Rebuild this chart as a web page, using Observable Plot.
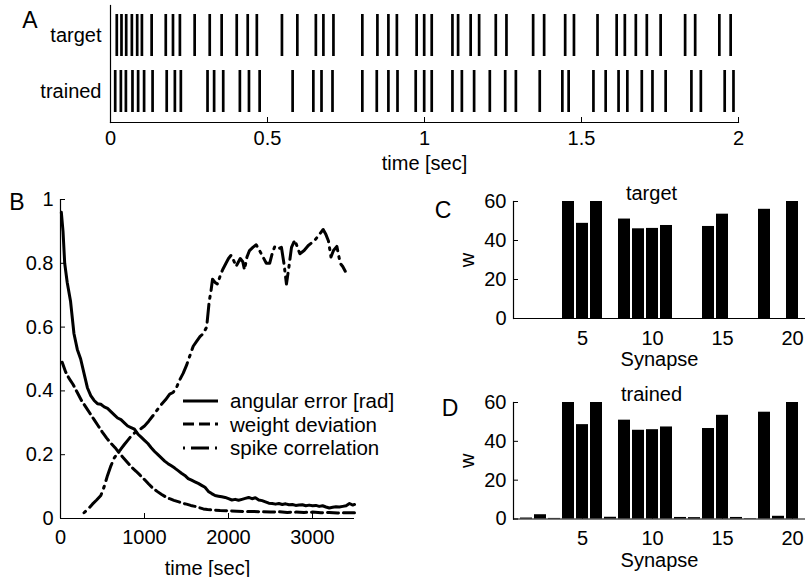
<!DOCTYPE html>
<html>
<head>
<meta charset="utf-8">
<script src="https://cdn.jsdelivr.net/npm/d3@7"></script>
<script src="https://cdn.jsdelivr.net/npm/@observablehq/plot@0.6"></script>
<style>
  html, body { margin: 0; padding: 0; background: #fff; }
  #fig { position: relative; width: 810px; height: 577px; font-family: "Liberation Sans", Arial, sans-serif; color: #000; }
  #fig svg { position: absolute; left: 0; top: 0; }
  .lbl { position: absolute; line-height: 1; white-space: nowrap; transform: translate(-50%, -50%); }
  .panel { font-size: 23px; }
  .ttl { font-size: 20px; }
  #legend { position: absolute; left: 183px; top: 389px; font-size: 20.5px; line-height: 23.5px; }
  #legend div { display: flex; align-items: center; height: 23.5px; }
  #legend svg { position: static; margin-right: 12px; }
</style>
</head>
<body>
<div id="fig"></div>
<script>
// ---------- Panel A: spike rasters (seconds) ----------
const rasterRows = ["target", "trained"];
const targetSpikes = [0.02, 0.035, 0.05, 0.068, 0.085, 0.10, 0.131, 0.176, 0.199, 0.221, 0.268, 0.316, 0.354, 0.402, 0.437, 0.466,
  0.546, 0.595, 0.654, 0.678, 0.710, 0.802, 0.850, 0.885, 0.912, 0.975, 0.999, 1.023, 1.089, 1.107, 1.147, 1.174,
  1.227, 1.261, 1.346, 1.381, 1.448, 1.476, 1.551, 1.612, 1.638, 1.673, 1.708, 1.752, 1.830, 1.862, 1.939, 1.975];
const trainedSpikes = [0.015, 0.033, 0.049, 0.070, 0.088, 0.107, 0.134, 0.179, 0.205, 0.224, 0.309, 0.330, 0.359, 0.412, 0.441, 0.475,
  0.580, 0.646, 0.672, 0.707, 0.802, 0.848, 0.885, 0.914, 0.972, 0.999, 1.023, 1.089, 1.119, 1.158, 1.208, 1.257,
  1.291, 1.367, 1.439, 1.459, 1.538, 1.577, 1.618, 1.646, 1.692, 1.726, 1.768, 1.850, 1.880, 1.956, 1.984];
const rasterTicks = [0, 0.5, 1, 1.5, 2];

// ---------- Panel B: learning curves [time sec, value] ----------
const angularError = [[10,0.96],[30,0.90],[50,0.80],[80,0.74],[120,0.68],[160,0.58],[200,0.53],[240,0.50],[280,0.455],[320,0.41],
  [360,0.385],[400,0.37],[440,0.36],[480,0.358],[520,0.35],[560,0.345],[600,0.335],[640,0.325],[680,0.315],[720,0.31],
  [760,0.30],[800,0.29],[840,0.285],[880,0.28],[920,0.265],[960,0.255],[1000,0.245],[1040,0.235],[1080,0.222],[1120,0.21],
  [1160,0.20],[1200,0.19],[1240,0.18],[1280,0.172],[1320,0.165],[1360,0.158],[1400,0.15],[1440,0.142],[1480,0.135],[1520,0.125],
  [1560,0.12],[1600,0.115],[1640,0.11],[1680,0.104],[1720,0.098],[1760,0.085],[1800,0.078],[1840,0.072],[1880,0.07],[1920,0.068],
  [1960,0.066],[2000,0.062],[2040,0.058],[2080,0.06],[2120,0.057],[2160,0.06],[2200,0.063],[2240,0.066],[2280,0.062],[2320,0.065],
  [2360,0.058],[2400,0.056],[2440,0.052],[2480,0.048],[2520,0.047],[2560,0.045],[2600,0.047],[2640,0.044],[2680,0.046],[2720,0.043],
  [2760,0.044],[2800,0.041],[2840,0.042],[2880,0.043],[2920,0.04],[2960,0.042],[3000,0.04],[3040,0.041],[3080,0.038],[3120,0.04],
  [3160,0.036],[3200,0.033],[3240,0.035],[3280,0.037],[3320,0.036],[3360,0.038],[3400,0.04],[3440,0.047],[3480,0.042],[3500,0.044]];
const weightDeviation = [[20,0.49],[60,0.46],[100,0.44],[150,0.42],[200,0.395],[250,0.37],[300,0.35],[350,0.33],[400,0.31],[450,0.29],
  [500,0.27],[550,0.252],[600,0.236],[650,0.222],[700,0.205],[750,0.19],[800,0.175],[850,0.16],[900,0.148],[950,0.135],
  [1000,0.122],[1050,0.108],[1100,0.095],[1150,0.085],[1200,0.076],[1250,0.068],[1300,0.062],[1350,0.057],[1400,0.053],[1450,0.048],
  [1500,0.045],[1550,0.041],[1600,0.038],[1650,0.034],[1700,0.03],[1750,0.028],[1800,0.027],[1900,0.025],[2000,0.024],[2100,0.023],
  [2200,0.022],[2300,0.022],[2400,0.021],[2500,0.02],[2600,0.021],[2700,0.019],[2800,0.02],[2900,0.019],[3000,0.02],[3100,0.018],
  [3200,0.019],[3300,0.017],[3400,0.018],[3500,0.018]];
const spikeCorrelation = [[280,0.018],[330,0.03],[380,0.045],[430,0.058],[480,0.072],[520,0.1],[560,0.135],[600,0.165],[640,0.19],[680,0.205],
  [720,0.218],[760,0.232],[800,0.245],[840,0.258],[880,0.268],[920,0.275],[960,0.282],[1000,0.29],[1050,0.305],[1100,0.322],
  [1150,0.34],[1200,0.357],[1250,0.372],[1300,0.39],[1340,0.395],[1380,0.41],[1420,0.435],[1460,0.455],[1500,0.48],[1540,0.51],
  [1580,0.54],[1620,0.555],[1660,0.57],[1700,0.58],[1740,0.6],[1770,0.68],[1790,0.71],[1810,0.75],[1840,0.74],[1870,0.735],
  [1900,0.76],[1930,0.78],[1970,0.8],[2000,0.815],[2030,0.825],[2060,0.81],[2090,0.79],[2110,0.80],[2140,0.815],[2170,0.805],
  [2190,0.78],[2220,0.82],[2250,0.84],[2290,0.85],[2330,0.858],[2370,0.84],[2410,0.82],[2450,0.80],[2490,0.80],[2520,0.83],
  [2550,0.852],[2590,0.845],[2630,0.85],[2660,0.8],[2690,0.735],[2720,0.79],[2750,0.85],[2790,0.873],[2820,0.85],[2850,0.83],
  [2900,0.84],[2950,0.856],[3000,0.866],[3030,0.873],[3080,0.89],[3127,0.906],[3160,0.89],[3190,0.87],[3220,0.82],[3250,0.84],
  [3290,0.853],[3330,0.80],[3360,0.79],[3390,0.775]];
const curveXTicks = [0, 1000, 2000, 3000];
const curveYTicks = [0, 0.2, 0.4, 0.6, 0.8, 1];
const legendLabels = ["angular error [rad]", "weight deviation", "spike correlation"];

// ---------- Panels C, D: synaptic weights ----------
const synapses = [1,2,3,4,5,6,7,8,9,10,11,12,13,14,15,16,17,18,19,20];
const targetWeights  = [0, 0, 0, 60, 48.8, 60, 0, 51, 46, 46.2, 47.7, 0, 0, 47.2, 53.5, 0, 0, 56, 0, 60];
const trainedWeights = [0.5, 2.2, 0.3, 60, 48.6, 60, 0.9, 50.9, 45.7, 46, 47.4, 0.8, 0.7, 46.6, 53.4, 0.8, 0.2, 55, 1.4, 60];
const synapseTicks = [5, 10, 15, 20];
const weightTicks = [0, 20, 40, 60];

// ---------- styles ----------
const FONT = "Liberation Sans, Arial, sans-serif";
const baseStyle = {fontFamily: FONT, fontSize: "20px", background: "transparent", overflow: "visible", color: "#000"};
const W = 810, H = 577;
const fmt = d => String(d);
const dashStyle = "11,5";
const dashDotStyle = "2,6,18,6";

const fig = document.getElementById("fig");

// Panel A
const rasterData = [
  ...targetSpikes.map(t => ({t, row: rasterRows[0]})),
  ...trainedSpikes.map(t => ({t, row: rasterRows[1]}))
];
fig.append(Plot.plot({
  width: W, height: H,
  marginLeft: 110, marginRight: 72, marginTop: 5, marginBottom: 455,
  style: baseStyle,
  x: {domain: [0, 2]},
  y: {type: "band", domain: rasterRows, range: [14, 112], paddingInner: 0.25, paddingOuter: 0},
  marks: [
    Plot.frame({anchor: "left", strokeWidth: 1.2}),
    Plot.frame({anchor: "bottom", strokeWidth: 1.2}),
    Plot.tickX(rasterData, {x: "t", y: "row", strokeWidth: 2.7, stroke: "#000"}),
    Plot.axisX({ticks: rasterTicks, tickFormat: fmt, tickSize: -5, tickPadding: 13,
      label: "time [sec]", labelAnchor: "center", labelOffset: 47, labelArrow: "none"}),
    Plot.axisY({tickSize: 0, tickPadding: 9, label: null})
  ]
}));

// Panel B
const toObj = (arr, name) => arr.map(([t, v]) => ({t, v, name}));
fig.append(Plot.plot({
  width: W, height: H,
  marginLeft: 60, marginRight: 456, marginTop: 199, marginBottom: 59,
  style: baseStyle,
  x: {domain: [0, 3500]},
  y: {domain: [0, 1]},
  marks: [
    Plot.ruleX([0], {strokeWidth: 1.2}),
    Plot.ruleY([0], {strokeWidth: 1.2}),
    Plot.line(toObj(angularError, legendLabels[0]), {x: "t", y: "v", strokeWidth: 3, stroke: "#000"}),
    Plot.line(toObj(weightDeviation, legendLabels[1]), {x: "t", y: "v", strokeWidth: 3, stroke: "#000", strokeDasharray: dashStyle}),
    Plot.line(toObj(spikeCorrelation, legendLabels[2]), {x: "t", y: "v", strokeWidth: 3, stroke: "#000", strokeDasharray: dashDotStyle}),
    Plot.axisX({ticks: curveXTicks, tickFormat: fmt, tickSize: -5, tickPadding: 16,
      label: "time [sec]", labelAnchor: "center", labelOffset: 56, labelArrow: "none"}),
    Plot.axisY({ticks: curveYTicks, tickFormat: fmt, tickSize: -5, tickPadding: 12, label: null})
  ]
}));

// Panels C and D
function weightPlot(weights, top, bottom) {
  const data = synapses.map((s, i) => ({s, w: weights[i]}));
  return Plot.plot({
    width: W, height: H,
    marginLeft: 513, marginRight: 5, marginTop: top, marginBottom: bottom,
    style: baseStyle,
    x: {type: "band", domain: synapses, paddingInner: 0.15, paddingOuter: 0.075},
    y: {domain: [0, 60]},
    marks: [
      Plot.barY(data, {x: "s", y: "w", fill: "#000"}),
      Plot.frame({anchor: "left", strokeWidth: 1.2}),
      Plot.ruleY([0], {strokeWidth: 1.2}),
      Plot.axisX({ticks: synapseTicks, tickFormat: fmt, tickSize: -5, tickPadding: 17,
        label: "Synapse", labelAnchor: "center", labelOffset: 47.5, labelArrow: "none"}),
      Plot.axisY({ticks: weightTicks, tickFormat: fmt, tickSize: -5, tickPadding: 12,
        label: "w", labelAnchor: "center", labelOffset: 54, labelArrow: "none"})
    ]
  });
}
fig.append(weightPlot(targetWeights, 201, 259));
fig.append(weightPlot(trainedWeights, 402, 58.5));

// Panel letters and panel titles
function addLabel(text, x, y, cls) {
  const d = document.createElement("div");
  d.className = "lbl " + cls;
  d.style.left = x + "px";
  d.style.top = y + "px";
  d.textContent = text;
  fig.append(d);
}
addLabel("A", 30, 20, "panel");
addLabel("B", 17, 202, "panel");
addLabel("C", 443, 210, "panel");
addLabel("D", 450, 408, "panel");
addLabel("target", 651.5, 193, "ttl");
addLabel("trained", 651.5, 394, "ttl");

// Legend for panel B
const legend = document.createElement("div");
legend.id = "legend";
const legendDash = [null, dashStyle, dashDotStyle];
legendLabels.forEach((name, i) => {
  const row = document.createElement("div");
  const svg = d3.create("svg").attr("width", 35).attr("height", 10);
  svg.append("line").attr("x1", 0).attr("x2", 35).attr("y1", 5).attr("y2", 5)
    .attr("stroke", "#000").attr("stroke-width", 3)
    .attr("stroke-dasharray", legendDash[i]);
  row.append(svg.node());
  const span = document.createElement("span");
  span.textContent = name;
  row.append(span);
  legend.append(row);
});
fig.append(legend);
</script>
</body>
</html>
